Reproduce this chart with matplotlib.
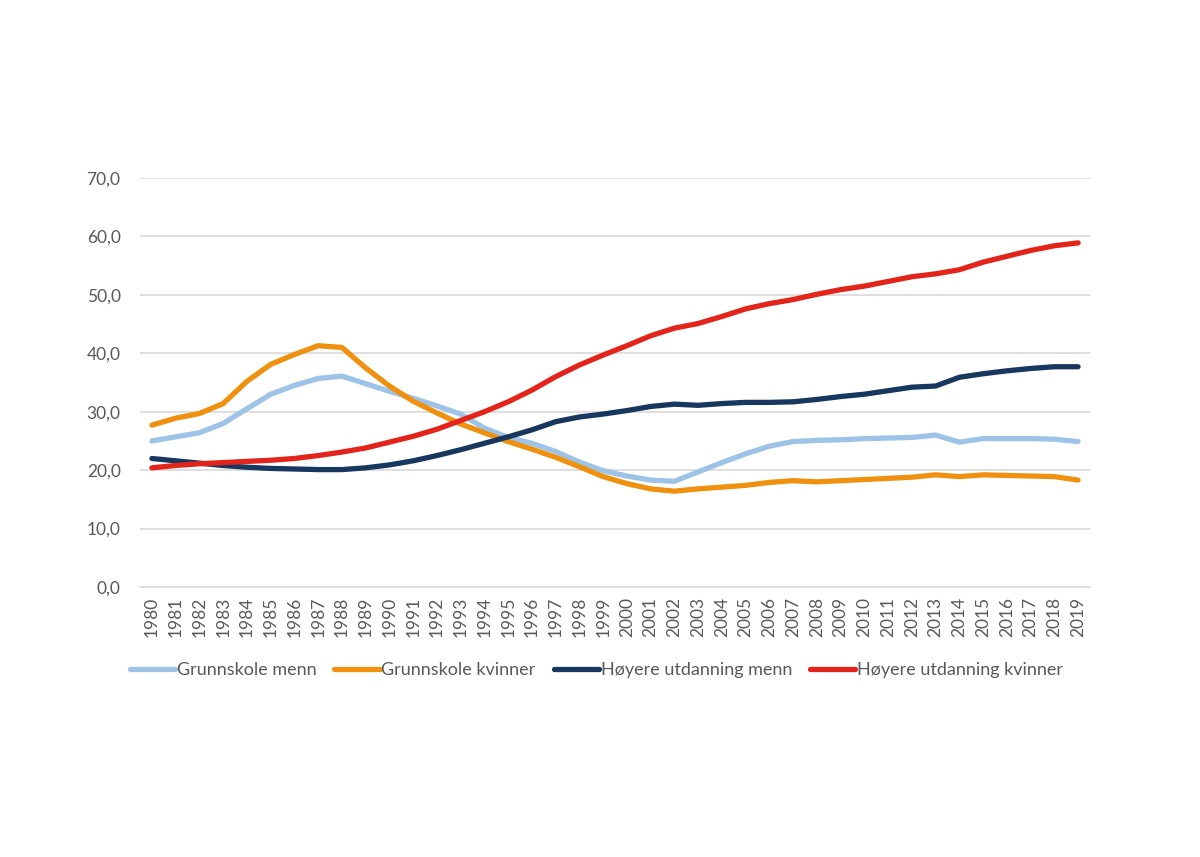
import matplotlib
matplotlib.use("Agg")
import matplotlib.pyplot as plt
from matplotlib.ticker import FuncFormatter

years = list(range(1980, 2020))

grunnskole_menn = [25.0, 25.7, 26.4, 28.0, 30.5, 33.0, 34.5, 35.7, 36.1, 34.8, 33.5, 32.3, 31.0, 29.6, 27.2, 25.6,
                   24.6, 23.2, 21.4, 19.9, 19.0, 18.3, 18.1, 19.7, 21.3, 22.8, 24.1, 24.9, 25.1, 25.2, 25.4,
                   25.5, 25.6, 26.0, 24.8, 25.4, 25.4, 25.4, 25.3, 24.9]
grunnskole_kvinner = [27.7, 28.9, 29.7, 31.4, 35.2, 38.1, 39.8, 41.3, 41.0, 37.5, 34.4, 31.8, 29.8, 27.9, 26.4, 24.9,
                      23.6, 22.2, 20.6, 18.9, 17.7, 16.8, 16.4, 16.8, 17.1, 17.4, 17.9, 18.2, 18.0, 18.2, 18.4,
                      18.6, 18.8, 19.2, 18.9, 19.2, 19.1, 19.0, 18.9, 18.3]
hoyere_menn = [22.0, 21.6, 21.2, 20.8, 20.5, 20.3, 20.2, 20.1, 20.1, 20.4, 20.9, 21.6, 22.5, 23.5, 24.6, 25.7,
               26.9, 28.3, 29.1, 29.6, 30.2, 30.9, 31.3, 31.1, 31.4, 31.6, 31.6, 31.7, 32.1, 32.6, 33.0,
               33.6, 34.2, 34.4, 35.9, 36.5, 37.0, 37.4, 37.7, 37.7]
hoyere_kvinner = [20.4, 20.8, 21.1, 21.3, 21.5, 21.7, 22.0, 22.5, 23.1, 23.8, 24.8, 25.8, 27.0, 28.5, 30.0, 31.7,
                  33.7, 36.0, 38.0, 39.7, 41.3, 43.0, 44.3, 45.1, 46.3, 47.6, 48.5, 49.2, 50.1, 50.9, 51.5,
                  52.3, 53.1, 53.6, 54.3, 55.6, 56.6, 57.6, 58.4, 58.9]

labels = ["Grunnskole menn", "Grunnskole kvinner", "Høyere utdanning menn", "Høyere utdanning kvinner"]
colors = ["#9DC3E6", "#F0900F", "#17375E", "#E3241B"]

plt.rcParams['font.family'] = ['Lato', 'DejaVu Sans']

fig = plt.figure(figsize=(12, 8.57), dpi=100)
ax = fig.add_axes([0.1167, 0.315, 0.7916, 0.4773])

for series, lab, col in zip([grunnskole_menn, grunnskole_kvinner, hoyere_menn, hoyere_kvinner], labels, colors):
    ax.plot(years, series, color=col, lw=3.8, label=lab, solid_capstyle='round', solid_joinstyle='round')

ax.set_xlim(1979.5, 2019.5)
ax.set_ylim(0, 70)
ax.set_yticks(range(0, 71, 10))
ax.yaxis.set_major_formatter(FuncFormatter(lambda v, p: f"{v:.1f}".replace(".", ",")))
ax.set_xticks(years)
ax.set_xticklabels([str(y) for y in years], rotation=90)
ax.grid(axis='y', color='#d9d9d9', lw=1.2)
ax.set_axisbelow(True)
for s in ['top', 'right', 'left']:
    ax.spines[s].set_visible(False)
ax.spines['bottom'].set_color('#d9d9d9')
ax.spines['bottom'].set_linewidth(1.2)
ax.tick_params(axis='both', length=0, colors='#595959', labelsize=12.5)
ax.tick_params(axis='y', pad=14)
ax.tick_params(axis='x', pad=7)

leg = fig.legend(loc='center', bbox_to_anchor=(0.497, 1 - 670 / 857), ncol=4, frameon=False,
                 fontsize=13, handlelength=2.5, handletextpad=0.1, columnspacing=1.0)
for t in leg.get_texts():
    t.set_color('#595959')

fig.savefig("out.png", dpi=100, facecolor='white')
